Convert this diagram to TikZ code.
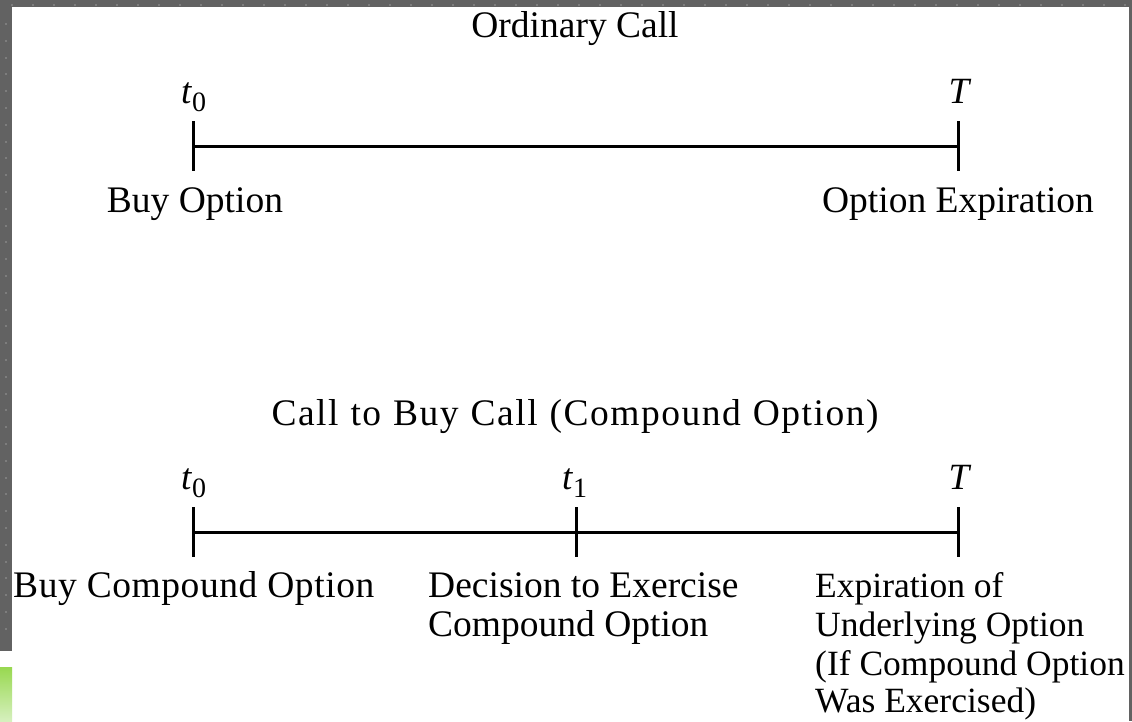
\documentclass[tikz,border=0pt]{standalone}
\usepackage{fontspec}
\setmainfont{Liberation Serif}
\definecolor{frameGray}{RGB}{98,98,98}
\definecolor{dotGray}{RGB}{125,125,125}
\definecolor{greenTop}{RGB}{152,216,80}
\definecolor{greenBot}{RGB}{214,240,190}
\newcommand{\tsub}[2]{\textit{#1}\raisebox{-8pt}{\fontsize{28}{28}\selectfont #2}}
\tikzset{
  lbl/.style={inner sep=0pt, font=\fontsize{37.5}{39.5}\selectfont},
  exlbl/.style={inner sep=0pt, font=\fontsize{35.5}{39.5}\selectfont},
  mlbl/.style={inner sep=0pt, font=\fontsize{37}{39}\selectfont},
  tline/.style={line width=3pt, black},
}
\begin{document}
\begin{tikzpicture}[x=1pt,y=-1pt]
\useasboundingbox (0,0) rectangle (1132,721);
% frame
\fill[frameGray] (0,0) rectangle (1132,721);
\fill[white] (12,7) rectangle (1129,721);
\fill[white] (0,651) rectangle (12,721);
\shade[top color=greenTop, bottom color=greenBot] (0,667) rectangle (12,721);
\foreach \i in {0,...,53} {\fill[dotGray] (11+21*\i,4) rectangle ++(2,2);}
\foreach \j in {0,...,36} {\fill[dotGray] (5,23+16.8*\j) rectangle ++(2,2);}
% Ordinary call
\node[lbl, anchor=base] (title1) at (575,37) {Ordinary Call};
\coordinate (a0) at (193,146);
\coordinate (aT) at (958,146);
\draw[tline] (a0) -- (aT);
\draw[tline] ([yshift=25pt]a0) -- ([yshift=-25pt]a0);
\draw[tline] ([yshift=25pt]aT) -- ([yshift=-25pt]aT);
\node[mlbl, anchor=base west] (ta0) at (181,103) {\tsub{t}{0}};
\node[mlbl, anchor=base] (taT) at (960,103) {\textit{T}};
\node[lbl, anchor=base] (buy) at (195,212) {Buy Option};
\node[lbl, anchor=base] (exp) at (958,212) {Option Expiration};
% Compound option
\node[lbl, anchor=base] (title2) at (575,425) {\addfontfeature{LetterSpace=4}\spaceskip=12pt Call to Buy Call (Compound Option)};
\coordinate (b0) at (193,532);
\coordinate (b1) at (576,532);
\coordinate (bT) at (958,532);
\draw[tline] (b0) -- (bT);
\draw[tline] ([yshift=25pt]b0) -- ([yshift=-25pt]b0);
\draw[tline] ([yshift=25pt]b1) -- ([yshift=-25pt]b1);
\draw[tline] ([yshift=25pt]bT) -- ([yshift=-25pt]bT);
\node[mlbl, anchor=base west] (tb0) at (181,489) {\tsub{t}{0}};
\node[mlbl, anchor=base west] (tb1) at (562,489) {\tsub{t}{1}};
\node[mlbl, anchor=base] (tbT) at (960,489) {\textit{T}};
\node[lbl, anchor=base west] (bc) at (13,597) {\addfontfeature{LetterSpace=1.5}Buy Compound Option};
\node[lbl, anchor=base west] (dec1) at (428,597) {Decision to Exercise};
\node[lbl, anchor=base west] (dec2) at (428,636) {Compound Option};
\node[exlbl, anchor=base west] (ex1) at (815,597) {Expiration of};
\node[exlbl, anchor=base west] (ex2) at (815,636) {Underlying Option};
\node[exlbl, anchor=base west] (ex3) at (815,675) {(If Compound Option};
\node[exlbl, anchor=base west] (ex4) at (815,712) {Was Exercised)};
\end{tikzpicture}
\end{document}
